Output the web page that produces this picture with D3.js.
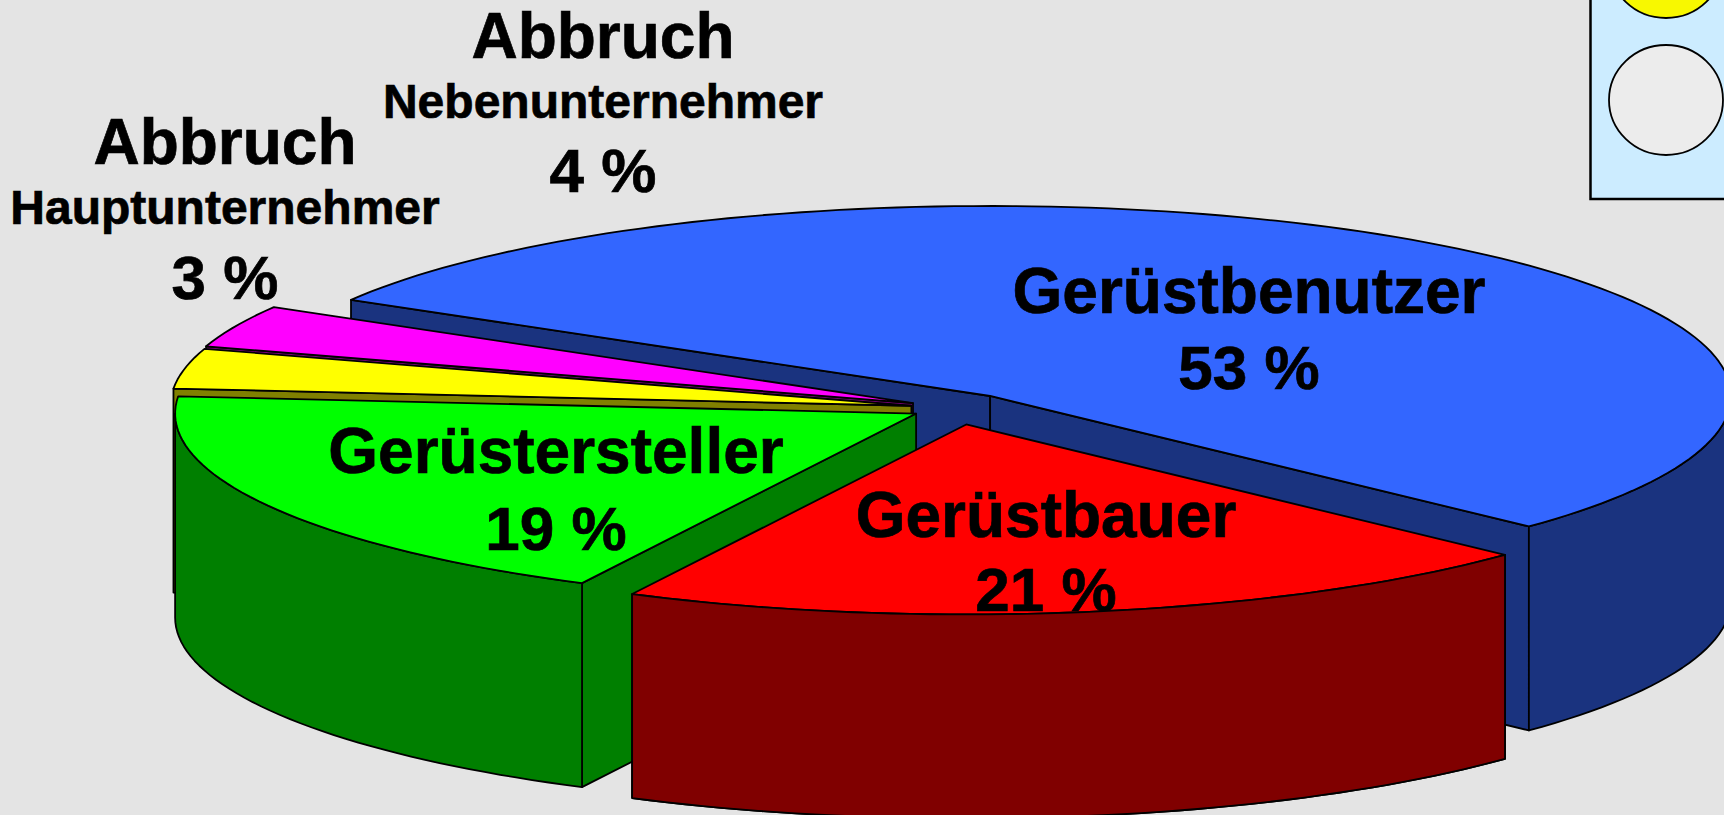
<!DOCTYPE html>
<html>
<head>
<meta charset="utf-8">
<script src="https://cdn.jsdelivr.net/npm/d3@7"></script>
<style>
html,body{margin:0;padding:0;background:#E4E4E4;overflow:hidden}
svg{display:block}
text{font-family:"Liberation Sans",Arial,sans-serif;font-weight:700;fill:#000;text-anchor:middle;stroke:#000;stroke-width:.7px}
</style>
</head>
<body>
<svg id="c" width="1724" height="815"></svg>
<script>
// ---- data ----
const categories = ["Gerüstbenutzer","Gerüstbauer","Gerüstersteller","Abbruch Hauptunternehmer","Abbruch Nebenunternehmer"];
const shares = [53.6,20.4,19.0,3.4,3.6];
const percentLabels = ["53 %","21 %","19 %","3 %","4 %"];

// ---- styling and layout ----
const topColors  = ["#3366FF","#FF0000","#00FF00","#FFFF00","#FF00FF"];
const wallColors = ["#1A337F","#800000","#007F00","#808000","#800080"];
const explode = [0.079,0.088,0.060,0.060,0.062];
const drawOrder = [0,4,3,2,1];
const labelLines = [
  [{t:categories[0],x:1249,y:313,s:64},{t:percentLabels[0],x:1249,y:389,s:62}],
  [{t:categories[1],x:1046,y:537,s:64},{t:percentLabels[1],x:1046,y:611,s:62}],
  [{t:categories[2],x:556,y:473,s:64},{t:percentLabels[2],x:556,y:550,s:62}],
  [{t:"Abbruch",x:225,y:164,s:64},{t:"Hauptunternehmer",x:225,y:224,s:48},{t:percentLabels[3],x:225,y:299,s:62}],
  [{t:"Abbruch",x:603,y:58,s:64},{t:"Nebenunternehmer",x:603,y:118,s:48},{t:percentLabels[4],x:603,y:192,s:62}]
];
const cx=955, cy=408, rx=741, ry=190, depth=204;
const rad=d=>d*Math.PI/180;

const svg=d3.select("#c");
svg.append("rect").attr("width",1724).attr("height",815).attr("fill","#E4E4E4");

// partial legend panel, top right
svg.append("rect").attr("x",1590.5).attr("y",-10).attr("width",160).attr("height",209)
  .attr("fill","#CCECFF").attr("stroke","#000").attr("stroke-width",2.5);
svg.append("ellipse").attr("cx",1666).attr("cy",-37).attr("rx",57).attr("ry",55)
  .attr("fill","#F8F800").attr("stroke","#000").attr("stroke-width",1.8);
svg.append("ellipse").attr("cx",1666).attr("cy",100).attr("rx",57).attr("ry",55)
  .attr("fill","#ECECEC").attr("stroke","#000").attr("stroke-width",1.8);

// projection of the unit disc on the page
const xS=d3.scaleLinear().domain([-1,1]).range([cx-rx,cx+rx]);
const yS=d3.scaleLinear().domain([-1,1]).range([cy-ry,cy+ry]);
const pie=d3.pie().sort(null).startAngle(rad(-59.6)).endAngle(rad(300.4));
const arcs=pie(shares);

const line=d3.line().x(d=>d[0]).y(d=>d[1]);
function centerOf(a,i){
  const m=(a.startAngle+a.endAngle)/2;
  return [explode[i]*Math.sin(m),-explode[i]*Math.cos(m)];
}
function P(c,ang,r,dz){
  return [xS(c[0]+r*Math.sin(ang)),yS(c[1]-r*Math.cos(ang))+dz];
}
function arcPts(c,a0,a1,dz){
  const n=Math.max(2,Math.ceil(Math.abs(a1-a0)/rad(1.5)));
  return d3.range(n+1).map(k=>P(c,a0+(a1-a0)*k/n,1,dz));
}
function outerWall(a,i){
  const c=centerOf(a,i);
  const out=[];
  // parts of the rim facing the viewer: 90..270 deg (also shifted a turn)
  [0,-2*Math.PI].forEach(sh=>{
    const lo=Math.max(a.startAngle,rad(90)+sh), hi=Math.min(a.endAngle,rad(270)+sh);
    if(hi>lo) out.push(arcPts(c,lo,hi,0).concat(arcPts(c,hi,lo,depth)));
  });
  return out;
}
function drawOuter(g,a,i){
  outerWall(a,i).forEach(p=>{
    g.append("path").attr("d",line(p)+"Z").attr("fill",wallColors[i])
      .attr("stroke","#000").attr("stroke-width",1.8).attr("stroke-linejoin","round");
  });
}

const slices=svg.append("g");
drawOrder.forEach(i=>{
  const a=arcs[i];
  const g=slices.append("g").attr("class","slice");
  const c=centerOf(a,i);
  // radial walls that face the viewer
  [[a.startAngle,a.startAngle-Math.PI/2],[a.endAngle,a.endAngle+Math.PI/2]].forEach(([ang,normal])=>{
    if(Math.cos(normal)<0){
      const q=[P(c,ang,0,0),P(c,ang,1,0),P(c,ang,1,depth),P(c,ang,0,depth)];
      g.append("path").attr("d",line(q)+"Z").attr("fill",wallColors[i])
        .attr("stroke","#000").attr("stroke-width",1.8).attr("stroke-linejoin","round");
    }
  });
  drawOuter(g,a,i);
  const top=[P(c,0,0,0)].concat(arcPts(c,a.startAngle,a.endAngle,0));
  g.append("path").attr("d",line(top)+"Z").attr("fill",topColors[i])
    .attr("stroke","#000").attr("stroke-width",1.8).attr("stroke-linejoin","round");
});

// labels
const labels=svg.append("g");
labelLines.forEach(ls=>ls.forEach(l=>{
  labels.append("text").attr("x",l.x).attr("y",l.y).attr("font-size",l.s).text(l.t);
}));

// the red rim overlaps the foot of its own label
drawOuter(svg.append("g"),arcs[1],1);
</script>
</body>
</html>
